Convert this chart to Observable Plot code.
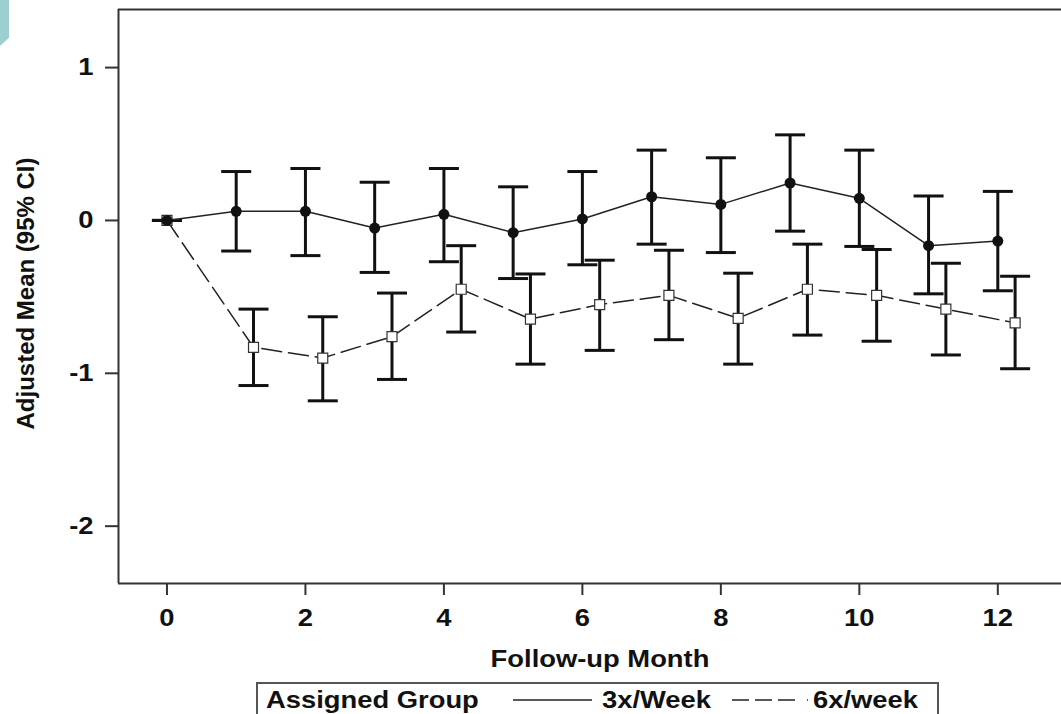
<!DOCTYPE html>
<html>
<head>
<meta charset="utf-8">
<script src="https://cdn.jsdelivr.net/npm/d3@7"></script>
<script src="https://cdn.jsdelivr.net/npm/@observablehq/plot@0.6"></script>
<style>
  body { margin: 0; background: #fff; font-family: "Liberation Sans", Arial, sans-serif; }
  #wrap { position: relative; width: 1061px; height: 714px; overflow: hidden; background: #fff; }
  #chart { position: absolute; left: 0; top: 0; }
  #teal { position: absolute; left: 0; top: 0; width: 9px; height: 46px; background: #9ccfd0;
          clip-path: polygon(0 0, 100% 0, 100% 82%, 0 100%); }
  #legend { position: absolute; left: 256px; top: 682px; width: 683px; height: 44px;
            border: 2px solid #555; box-sizing: border-box; }
  .lt { position: absolute; top: 688px; font-weight: bold; font-size: 24px; line-height: 24px;
        transform: scaleX(1.14); transform-origin: 0 0; white-space: nowrap; color: #111; }
  .ls { position: absolute; }
</style>
</head>
<body>
<div id="wrap">
  <div id="chart"></div>
  <div id="teal"></div>
  <div id="legend"></div>
  <div class="lt" id="legTitle" style="left:266px"></div>
  <svg class="ls" style="left:510px;top:690px" width="90" height="20">
    <line x1="3" y1="10" x2="82" y2="10" stroke="#222" stroke-width="1.6"></line>
  </svg>
  <div class="lt" id="leg3" style="left:602px"></div>
  <svg class="ls" style="left:728px;top:690px" width="86" height="20">
    <line x1="4" y1="10" x2="80" y2="10" stroke="#222" stroke-width="1.6" stroke-dasharray="17 6 17 6 17 12"></line>
  </svg>
  <div class="lt" id="leg6" style="left:813px"></div>
</div>
<script>
// ---- data ----
const months = [0, 1, 2, 3, 4, 5, 6, 7, 8, 9, 10, 11, 12];
const mean3x = [0, 0.06, 0.06, -0.05, 0.04, -0.08, 0.01, 0.155, 0.105, 0.245, 0.145, -0.165, -0.135];
const lower3x = [0, -0.20, -0.23, -0.34, -0.27, -0.38, -0.29, -0.155, -0.21, -0.07, -0.17, -0.48, -0.46];
const upper3x = [0, 0.32, 0.34, 0.25, 0.34, 0.22, 0.32, 0.46, 0.41, 0.56, 0.46, 0.16, 0.19];
const mean6x = [0, -0.83, -0.90, -0.76, -0.45, -0.645, -0.55, -0.49, -0.64, -0.45, -0.49, -0.58, -0.67];
const lower6x = [0, -1.08, -1.18, -1.04, -0.73, -0.94, -0.85, -0.78, -0.94, -0.75, -0.79, -0.88, -0.97];
const upper6x = [0, -0.58, -0.63, -0.475, -0.165, -0.35, -0.26, -0.195, -0.345, -0.155, -0.19, -0.28, -0.365];
const xTicks = [0, 2, 4, 6, 8, 10, 12];
const yTicks = [-2, -1, 0, 1];
const xTitle = "Follow-up Month";
const yTitle = "Adjusted Mean (95% CI)";
const legendTitle = "Assigned Group";
const groups = ["3x/Week", "6x/week"];

// ---- layout ----
const xDomain = [-0.70, 12.92];
const yDomain = [-2.375, 1.38];
const offset6 = 0.25; // horizontal dodge of the 6x/week series

const s3 = months.map((m, i) => ({ x: m, y: mean3x[i], lo: lower3x[i], hi: upper3x[i] }));
const s6 = months.map((m, i) => ({ x: m === 0 ? m : m + offset6, y: mean6x[i], lo: lower6x[i], hi: upper6x[i] }));

const cap = { draw(ctx) { ctx.moveTo(-15, 0); ctx.lineTo(15, 0); } };
const square = { draw(ctx) { ctx.rect(-5, -5, 10, 10); } };
const ink = "#111";

const chart = Plot.plot({
  width: 1061,
  height: 680,
  marginTop: 9,
  marginBottom: 97,
  marginLeft: 118,
  marginRight: 0,
  style: { fontFamily: "'Liberation Sans', Arial, sans-serif", color: ink, background: "white" },
  x: { domain: xDomain },
  y: { domain: yDomain },
  marks: [
    Plot.axisX({ ticks: xTicks, tickSize: 12, tickPadding: 13, strokeWidth: 2, stroke: "#333",
                 fill: ink, fontSize: 24, fontWeight: "bold", label: null, tickFormat: d => String(d) }),
    Plot.axisY({ ticks: yTicks, tickSize: 13, tickPadding: 12, strokeWidth: 2, stroke: "#333",
                 fill: ink, fontSize: 24, fontWeight: "bold", label: null, tickFormat: d => String(d) }),
    Plot.ruleX([xDomain[0]], { stroke: "#333", strokeWidth: 2 }),
    Plot.ruleY([yDomain[0], yDomain[1]], { stroke: "#333", strokeWidth: 2 }),
    // 6x/week
    Plot.ruleX(s6, { x: "x", y1: "lo", y2: "hi", stroke: ink, strokeWidth: 3 }),
    Plot.dot(s6, { x: "x", y: "lo", symbol: cap, fill: "none", stroke: ink, strokeWidth: 3 }),
    Plot.dot(s6, { x: "x", y: "hi", symbol: cap, fill: "none", stroke: ink, strokeWidth: 3 }),
    Plot.line(s6, { x: "x", y: "y", stroke: "#222", strokeWidth: 1.5, strokeDasharray: "20,7" }),
    Plot.dot(s6, { x: "x", y: "y", symbol: square, fill: "white", stroke: "#333", strokeWidth: 1.2 }),
    // 3x/Week
    Plot.ruleX(s3, { x: "x", y1: "lo", y2: "hi", stroke: ink, strokeWidth: 3 }),
    Plot.dot(s3, { x: "x", y: "lo", symbol: cap, fill: "none", stroke: ink, strokeWidth: 3 }),
    Plot.dot(s3, { x: "x", y: "hi", symbol: cap, fill: "none", stroke: ink, strokeWidth: 3 }),
    Plot.line(s3, { x: "x", y: "y", stroke: "#222", strokeWidth: 1.5 }),
    Plot.dot(s3, { x: "x", y: "y", r: 5.5, fill: ink, stroke: "none" }),
    // axis titles
    Plot.text([xTitle], { text: d => d, frameAnchor: "bottom", dy: 76, dx: 10, fontSize: 24,
                          fontWeight: "bold", fill: ink, lineAnchor: "middle" }),
    Plot.text([yTitle], { text: d => d, frameAnchor: "left", textAnchor: "middle", dx: -92, dy: -3,
                          rotate: -90, fontSize: 24, fontWeight: "bold", fill: ink, lineAnchor: "middle" })
  ]
});
document.getElementById("chart").appendChild(chart);

// horizontal stretch of the original picture's lettering
chart.querySelectorAll("text").forEach(t => {
  if (t.textContent === yTitle) return;
  const len = t.getComputedTextLength();
  if (len > 0) {
    t.setAttribute("textLength", len * 1.14);
    t.setAttribute("lengthAdjust", "spacingAndGlyphs");
  }
});

document.getElementById("legTitle").textContent = legendTitle;
document.getElementById("leg3").textContent = groups[0];
document.getElementById("leg6").textContent = groups[1];
</script>
</body>
</html>
